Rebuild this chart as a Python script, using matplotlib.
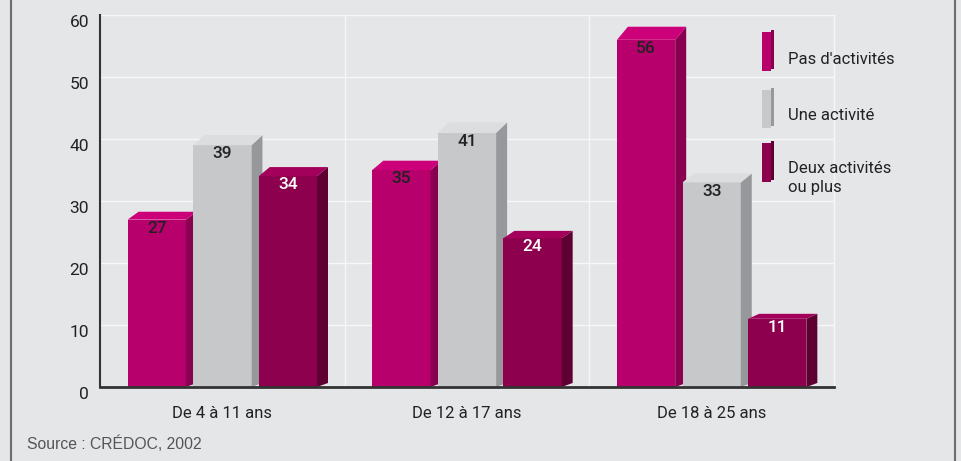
import matplotlib
matplotlib.use("Agg")
import matplotlib.pyplot as plt
from matplotlib.patches import Polygon, Rectangle
from matplotlib.lines import Line2D
import numpy as np

groups = ["De 4 à 11 ans", "De 12 à 17 ans", "De 18 à 25 ans"]
series = ["Pas d'activités", "Une activité", "Deux activités\nou plus"]
pas_activite = [27, 35, 56]
une_activite = [39, 41, 33]
deux_ou_plus = [34, 24, 11]
source = "Source : CRÉDOC, 2002"

front = ['#b8006c', '#c7c8ca', '#8c004d']
side = ['#8a0050', '#97989b', '#5e0032']
top = ['#cc0078', '#dcdddf', '#a3005b']
label_col = ['#222222', '#222222', 'white']
bg = '#e5e6e8'

plt.rcParams['font.family'] = ['Roboto', 'DejaVu Sans']

W, H = 962, 461
fig = plt.figure(figsize=(W / 100, H / 100), dpi=100, facecolor=bg)


def fx(x):
    return x / W


def fy(y):
    return 1 - y / H


ax = fig.add_axes([fx(100), fy(387), 734 / W, 372 / H])
ax.set_facecolor(bg)
ax.set_xlim(-0.5, 2.5)
ax.set_ylim(0, 60)

# grid
ax.set_yticks(range(0, 61, 10))
ax.yaxis.grid(True, color='#f7f7f8', lw=1.0, zorder=0)
ax.set_axisbelow(True)
for xv in [0.5, 1.5, 2.5]:
    ax.axvline(xv, color='#f7f7f8', lw=1.0, zorder=0.5, clip_on=False)

for s in ['top', 'right']:
    ax.spines[s].set_visible(False)
ax.spines['left'].set_color('#333333')
ax.spines['left'].set_linewidth(1.5)
ax.spines['bottom'].set_color('#333333')
ax.spines['bottom'].set_linewidth(2)
ax.spines['bottom'].set_zorder(10)

ax.tick_params(length=0, labelsize=12.5, colors='#222222')
ax.tick_params(axis='y', pad=8)
ax.tick_params(axis='x', pad=14)
for lab in ax.get_yticklabels():
    lab.set_va('top')
ax.set_xticks(range(len(groups)))
ax.set_xticklabels(groups, fontsize=12)

# 3D-looking bars
offsets = [-0.268, 0.0, 0.268]
width = 0.238
dx = 11 / 245
px_per_unit = 372 / 60

for i, vals in enumerate([pas_activite, une_activite, deux_ou_plus]):
    xs = np.arange(len(groups)) + offsets[i]
    z = 3 + i
    ax.bar(xs, vals, width=width, color=front[i], zorder=z, linewidth=0)
    for x, v in zip(xs, vals):
        x0, x1 = x - width / 2, x + width / 2
        dy = (3 + 0.18 * v) / px_per_unit
        dy0 = 4 / px_per_unit
        ax.add_patch(Polygon([(x1, 0), (x1 + dx, dy0), (x1 + dx, v + dy), (x1, v)],
                             closed=True, facecolor=side[i], lw=0, zorder=z))
        ax.add_patch(Polygon([(x0, v), (x0 + dx, v + dy), (x1 + dx, v + dy), (x1, v)],
                             closed=True, facecolor=top[i], lw=0, zorder=z))
        ax.text(x, v - 0.2, str(v), ha='center', va='top', fontsize=12.5,
                fontweight='medium', color=label_col[i], zorder=z + 0.5)

# legend
leg_y = [(32, 71), (90, 128), (143, 182)]
txt_y = [59, 116, 170]
for i, name in enumerate(series):
    y0, y1 = leg_y[i]
    fig.patches.append(Rectangle((fx(762), fy(y1)), 9 / W, (y1 - y0) / H,
                                 transform=fig.transFigure, facecolor=front[i], lw=0))
    fig.patches.append(Rectangle((fx(771), fy(y1 - 2)), 3 / W, (y1 - y0) / H,
                                 transform=fig.transFigure, facecolor=side[i], lw=0))
    fig.text(fx(788), fy(txt_y[i]), name, ha='left', va='center' if i < 2 else 'top',
             fontsize=12, color='#222222', linespacing=1.3)
# third label is two lines, place from its first line top
fig.texts[-1].set_position((fx(788), fy(txt_y[2] - 9)))

fig.text(fx(27), fy(444), source, ha='left', va='center', fontsize=11.3,
         color='#555555', family=['Liberation Sans', 'DejaVu Sans'])

fig.add_artist(Line2D([fx(11), fx(11)], [0, 1], color='#6d6d6d', lw=1.5,
                      transform=fig.transFigure))
fig.add_artist(Line2D([fx(955), fx(955)], [0, 1], color='#6d6d6d', lw=1.5,
                      transform=fig.transFigure))

fig.savefig('out.png', dpi=100, facecolor=bg)
